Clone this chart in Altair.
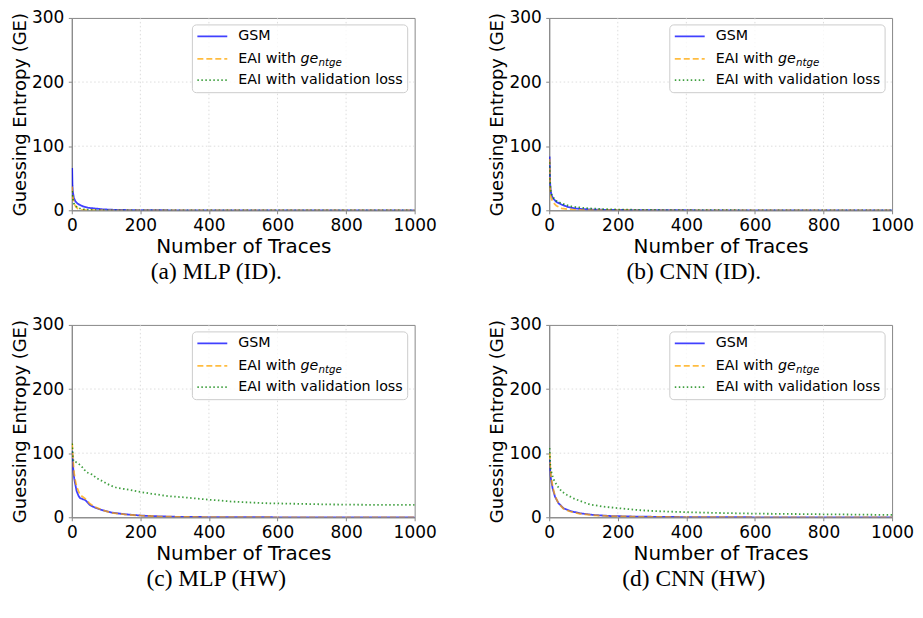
import altair as alt
import pandas as pd

SERIES = ["GSM", "EAI with ge_ntge", "EAI with validation loss"]
COLORS = ["#0000ff", "#ffa500", "#008000"]
DASHES = [[1, 0], [6, 3], [1.5, 2.5]]

X_TICKS = [0, 200, 400, 600, 800, 1000]
Y_TICKS = [0, 100, 200, 300]
X_GRID = [200, 400, 600, 800]
Y_GRID = [100, 200]

# (a) MLP (ID)
a_gsm_x = [1, 2, 3, 4, 6, 9, 12, 18, 25, 33, 47, 60, 72, 91, 120, 160, 200, 300, 400, 600, 800, 1000]
a_gsm_y = [66, 38, 30, 26, 20, 15.5, 13, 10, 8, 6, 4, 3.2, 2.6, 1.5, 0.8, 0.4, 0.2, 0, 0, 0, 0, 0]
a_ntge_x = [1, 2, 4, 6, 9, 13, 18, 28, 43, 60, 100, 200, 400, 600, 800, 1000]
a_ntge_y = [37, 26, 18, 12, 8, 5, 2.6, 1, 0.3, 0.1, 0, 0, 0, 0, 0, 0]
a_val_x = [1, 2, 4, 6, 9, 13, 18, 28, 40, 60, 100, 200, 400, 600, 800, 1000]
a_val_y = [30, 22, 15, 11, 8, 6, 4, 2, 1, 0.3, 0, 0, 0, 0, 0, 0]

# (b) CNN (ID)
b_gsm_x = [1, 2, 3, 5, 8, 12, 21, 36, 55, 75, 94, 133, 200, 300, 500, 1000]
b_gsm_y = [84, 55, 40, 28, 22, 18, 13, 9, 5, 3, 2, 1, 0.5, 0.1, 0, 0]
b_ntge_x = [1, 2, 3, 5, 8, 12, 21, 36, 55, 75, 100, 150, 300, 1000]
b_ntge_y = [80, 50, 35, 22, 16, 12, 7, 3, 1.5, 0.7, 0.3, 0.1, 0, 0]
b_val_x = [1, 2, 3, 5, 8, 12, 20, 26, 45, 65, 84, 113, 152, 210, 300, 400, 600, 1000]
b_val_y = [75, 50, 38, 28, 23, 20, 15, 13, 9, 6, 4.7, 3, 2, 1, 0.5, 0.2, 0, 0]

# (c) MLP (HW)
c_gsm_x = [1, 3, 5, 7, 10, 14, 20, 24, 33, 39, 53, 68, 87, 116, 155, 203, 252, 300, 400, 500, 600, 1000]
c_gsm_y = [103, 85, 70, 61, 52, 41, 33, 30, 28, 27, 19, 15, 11.4, 7.3, 4.7, 2.6, 1.5, 0.8, 0.3, 0.1, 0, 0]
c_ntge_x = [1, 3, 5, 7, 10, 14, 24, 39, 53, 68, 87, 116, 155, 203, 252, 300, 400, 600, 1000]
c_ntge_y = [115, 95, 80, 68, 58, 48, 35, 29, 21, 16, 11.5, 7, 4.5, 2.5, 1.3, 0.7, 0.2, 0, 0]
c_val_x = [1, 3, 5, 12, 19, 29, 37, 44, 58, 73, 92, 111, 131, 155, 194, 242, 281, 329, 378, 407,
           426, 465, 504, 561, 658, 755, 852, 1000]
c_val_y = [115, 95, 87, 86, 84, 79, 74, 70, 67, 61, 55.5, 50, 46, 44, 40, 36, 33, 31, 28.5, 27,
           26.5, 24.5, 23.5, 22, 21, 20, 19.5, 19.5]

# (d) CNN (HW)
d_gsm_x = [1, 3, 5, 10, 17, 27, 42, 61, 90, 129, 177, 255, 400, 600, 1000]
d_gsm_y = [90, 72, 60, 45, 32, 22, 14, 9.8, 6.2, 3.6, 2, 1, 0.3, 0, 0]
d_ntge_x = [1, 3, 5, 10, 17, 27, 42, 61, 90, 129, 177, 255, 400, 600, 1000]
d_ntge_y = [100, 78, 65, 48, 33, 22, 13, 9, 5.5, 3.2, 1.8, 0.8, 0.2, 0, 0]
d_val_x = [1, 3, 5, 12, 22, 37, 51, 71, 90, 119, 158, 206, 255, 303, 352, 409, 449, 497, 603,
           700, 797, 900, 1000]
d_val_y = [108, 82, 73, 60, 50, 40, 35, 29.5, 25.4, 20, 16.6, 14, 11.4, 9.8, 8.8, 7.8, 7.3, 6.7,
           5.7, 5.2, 4.7, 4.2, 3.6]

CAPTIONS = ["(a) MLP (ID).", "(b) CNN (ID).", "(c) MLP (HW)", "(d) CNN (HW)"]

PANELS = [
    [(a_gsm_x, a_gsm_y), (a_ntge_x, a_ntge_y), (a_val_x, a_val_y)],
    [(b_gsm_x, b_gsm_y), (b_ntge_x, b_ntge_y), (b_val_x, b_val_y)],
    [(c_gsm_x, c_gsm_y), (c_ntge_x, c_ntge_y), (c_val_x, c_val_y)],
    [(d_gsm_x, d_gsm_y), (d_ntge_x, d_ntge_y), (d_val_x, d_val_y)],
]

W, H = 344, 193
LINE_W = 1.8
LINE_OP = 0.75
FONT = "DejaVu Sans"
GRID_COLOR = "#d4d4d4"
GRID_DASH = [1.5, 2.5]
LEG_FS = 14.3


def make_panel(curves, caption):
    rows = []
    for name, (xs, ys) in zip(SERIES, curves):
        for xv, yv in zip(xs, ys):
            rows.append({"series": name, "traces": xv, "ge": yv})
    df = pd.DataFrame(rows)

    xscale = alt.Scale(domain=[0, 1000], nice=False, zero=False)
    yscale = alt.Scale(domain=[0, 300], nice=False)

    gx = alt.Chart(pd.DataFrame({"v": X_GRID})).mark_rule(
        color=GRID_COLOR, strokeDash=GRID_DASH, strokeWidth=0.8).encode(
        x=alt.X("v:Q", scale=xscale))
    gy = alt.Chart(pd.DataFrame({"v": Y_GRID})).mark_rule(
        color=GRID_COLOR, strokeDash=GRID_DASH, strokeWidth=0.8).encode(
        y=alt.Y("v:Q", scale=yscale))

    lines = alt.Chart(df).mark_line(strokeWidth=LINE_W, opacity=LINE_OP, clip=True).encode(
        x=alt.X("traces:Q", scale=xscale,
                axis=alt.Axis(values=X_TICKS, title="Number of Traces", format="d", grid=False)),
        y=alt.Y("ge:Q", scale=yscale,
                axis=alt.Axis(values=Y_TICKS, title="Guessing Entropy (GE)", format="d", grid=False)),
        color=alt.Color("series:N", scale=alt.Scale(domain=SERIES, range=COLORS), legend=None),
        strokeDash=alt.StrokeDash("series:N", scale=alt.Scale(domain=SERIES, range=DASHES), legend=None),
        detail="series:N",
    )

    one = pd.DataFrame({"k": [0]})
    layers = [lines, gx, gy]
    layers.append(
        alt.Chart(one).mark_rect(fill="white", fillOpacity=0.8, stroke="#cccccc", strokeWidth=1,
                                 cornerRadius=4).encode(
            x=alt.value(121), x2=alt.value(337), y=alt.value(7), y2=alt.value(75))
    )
    row_y = [18.5, 41, 62.5]
    for i in range(3):
        layers.append(
            alt.Chart(one).mark_rule(color=COLORS[i], strokeDash=DASHES[i], strokeWidth=LINE_W,
                                     opacity=LINE_OP).encode(
                x=alt.value(126), x2=alt.value(156), y=alt.value(row_y[i]))
        )
    labels = ["GSM", "EAI with ", "EAI with validation loss"]
    for i in range(3):
        layers.append(
            alt.Chart(one).mark_text(align="left", baseline="middle", fontSize=LEG_FS, font=FONT,
                                     color="black").encode(
                x=alt.value(167), y=alt.value(row_y[i]), text=alt.value(labels[i]))
        )
    layers.append(
        alt.Chart(one).mark_text(align="left", baseline="middle", fontSize=LEG_FS, font=FONT,
                                 fontStyle="italic", color="black").encode(
            x=alt.value(229.5), y=alt.value(row_y[1]), text=alt.value("ge"))
    )
    layers.append(
        alt.Chart(one).mark_text(align="left", baseline="middle", fontSize=10.3, font=FONT,
                                 fontStyle="italic", color="black").encode(
            x=alt.value(247.5), y=alt.value(row_y[1] + 4), text=alt.value("ntge"))
    )

    return alt.layer(*layers).properties(
        width=W, height=H,
        title=alt.TitleParams(text=caption, orient="bottom", font="Liberation Serif", fontSize=23.5,
                              fontWeight="normal", color="black", offset=4, anchor="middle", dx=-27),
    )


panels = [make_panel(c, t) for c, t in zip(PANELS, CAPTIONS)]

chart = alt.concat(*panels, columns=2, spacing={"row": 115, "column": 135}, bounds="flush").properties(
    padding={"left": 3, "top": -1, "right": 0, "bottom": 0}
).configure_view(
    stroke="#888888", strokeWidth=1
).configure_axis(
    labelFont=FONT, titleFont=FONT, labelFontSize=17, titleFontSize=18, titleFontWeight="normal",
    labelColor="black", titleColor="black",
    tickColor="#888888", domainColor="#888888", tickSize=3.5, labelPadding=4.5,
    labelFlush=False, labelOverlap=False,
).configure_axisX(titlePadding=3, titleFontSize=20, labelPadding=3.5).configure_axisY(titlePadding=2)

chart.save("out.html", embed_options={"renderer": "svg", "actions": False})
